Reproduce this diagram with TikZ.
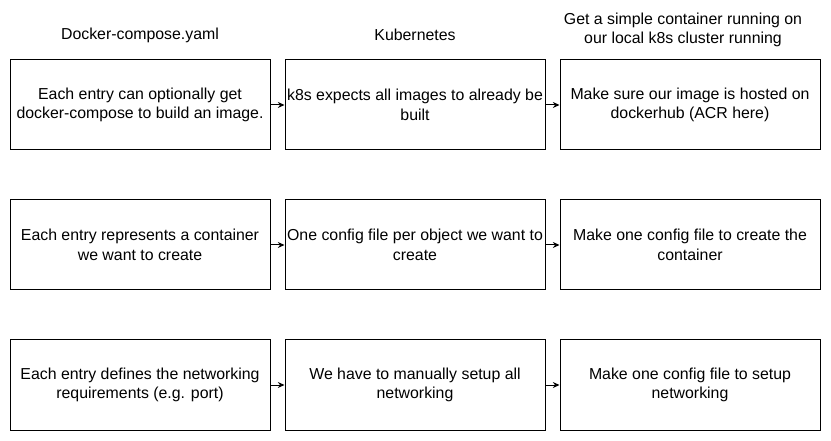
\documentclass[tikz,border=0pt]{standalone}
\usepackage{fontspec}
\setmainfont{Liberation Sans}
\usetikzlibrary{arrows.meta}

\tikzset{
  entry/.style={draw, line width=0.75pt, minimum width=195pt, minimum height=67.5pt,
    inner sep=0pt, align=center, font=\fontsize{11.9}{14.6}\selectfont},
  heading/.style={align=center, font=\fontsize{11.9}{14.6}\selectfont},
  link/.style={-{Stealth[length=5pt,width=4.5pt]}, line width=0.75pt}
}

\begin{document}
\begin{tikzpicture}[x=0.75pt,y=-0.75pt]
\useasboundingbox (0,0) rectangle (831,441);
\coordinate (a1) at (140,105);
\coordinate (b1) at (415,105);
\coordinate (c1) at (690,105);
\coordinate (a2) at (140,245);
\coordinate (b2) at (415,245);
\coordinate (c2) at (690,245);
\coordinate (a3) at (140,385);
\coordinate (b3) at (415,385);
\coordinate (c3) at (690,385);
% column headings
\node[heading] (hcompose) at (140,35) {Docker-compose.yaml};
\node[heading] (hkube) at (415,35) {Kubernetes};
\node[heading] (hlocal) at (683,30) {Get a simple container running on\\our local k8s cluster running};
% boxes
\node[entry] (build) at (a1) {Each entry can optionally get\\docker-compose to build an image.};
\node[entry] (prebuilt) at (b1) {k8s expects all images to already be\\built};
\node[entry] (hosted) at (c1) {Make sure our image is hosted on\\dockerhub (ACR here)};
\node[entry] (container) at (a2) {Each entry represents a container\\we want to create};
\node[entry] (perobject) at (b2) {One config file per object we want to\\create};
\node[entry] (onefile) at (c2) {Make one config file to create the\\container};
\node[entry] (network) at (a3) {Each entry defines the networking\\requirements (e.g. port)};
\node[entry] (manual) at (b3) {We have to manually setup all\\networking};
\node[entry] (netfile) at (c3) {Make one config file to setup\\networking};
% arrows
\draw[link] (build) -- (prebuilt);
\draw[link] (prebuilt) -- (hosted);
\draw[link] (container) -- (perobject);
\draw[link] (perobject) -- (onefile);
\draw[link] (network) -- (manual);
\draw[link] (manual) -- (netfile);
\end{tikzpicture}
\end{document}
